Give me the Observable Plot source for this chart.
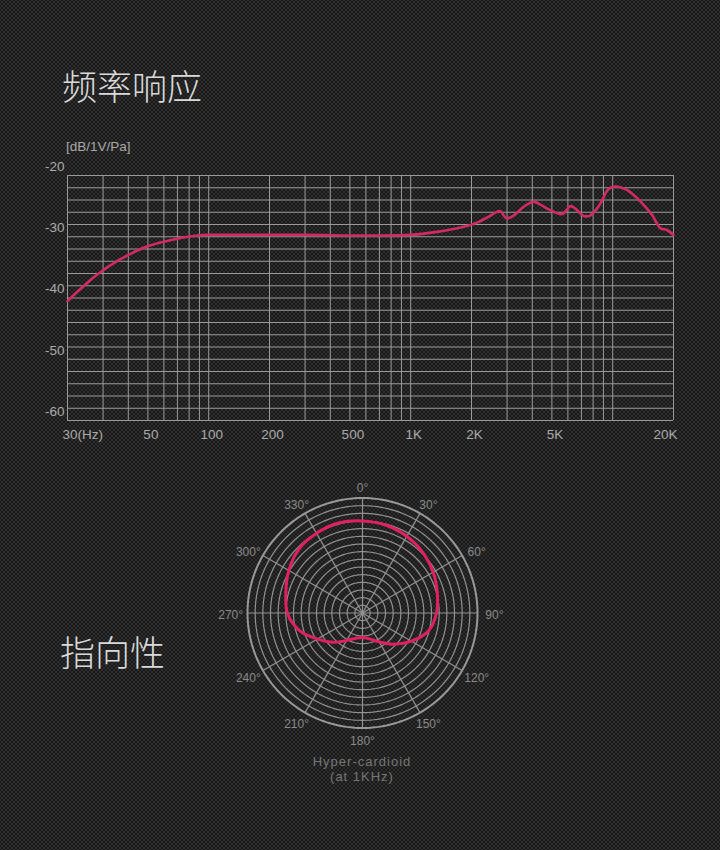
<!DOCTYPE html>
<html><head><meta charset="utf-8">
<script src="https://cdn.jsdelivr.net/npm/d3@7"></script>
<script src="https://cdn.jsdelivr.net/npm/@observablehq/plot@0.6"></script>
<style>
html,body{margin:0;padding:0;}
body{width:720px;height:850px;overflow:hidden;position:relative;
 background-color:#171717;
 background-image: radial-gradient(circle at center, #303030 0.9px, transparent 1.5px), radial-gradient(circle at center, #303030 0.9px, transparent 1.5px);
 background-size:4px 4px; background-position:0 0, 2px 2px;
 font-family:"Liberation Sans", Arial, sans-serif;}
.title{position:absolute;font-family:"Noto Sans CJK SC",sans-serif;font-weight:300;font-size:35px;line-height:35px;color:#dadada;white-space:nowrap;}
#t1{left:62px;top:67px;}
#t2{left:60px;top:633px;}
#unit{position:absolute;left:66px;top:139px;font-size:13.5px;color:#a8a8a8;}
#fr{position:absolute;left:0;top:0;}
#polar{position:absolute;left:0;top:430px;}
.cap{position:absolute;left:262px;width:200px;text-align:center;font-size:13px;letter-spacing:1px;color:#767676;line-height:15px;}
</style></head><body>
<div id="fr"></div><div id="polar"></div>
<div class="title" id="t1">频率响应</div>
<div id="unit">[dB/1V/Pa]</div>
<div class="title" id="t2">指向性</div>
<div class="cap" style="top:754px;">Hyper-cardioid<br>(at 1KHz)</div>
<script>
// ---------- Frequency response data ----------
const freqHz = [20, 23.2, 28, 33.9, 41, 49.5, 60, 72.6, 88, 100, 150, 300, 600, 1000, 1350, 1770, 2130, 2470, 2760, 2980, 3240, 3630, 4070, 4740, 5620, 6180, 6540, 7180, 7760, 8680, 9540, 10300, 11800, 13800, 15700, 17200, 18500, 20000];
const responseDb = [-40.5, -38.5, -36.2, -34.3, -32.8, -31.6, -30.8, -30.2, -29.8, -29.7, -29.7, -29.7, -29.8, -29.7, -29.2, -28.5, -27.7, -26.6, -25.8, -27.0, -26.5, -25.1, -24.3, -25.4, -26.3, -25.0, -25.4, -26.6, -26.5, -24.6, -22.2, -21.8, -22.4, -24.3, -26.5, -28.6, -28.9, -29.7];
const xTickValues = [20, 50, 100, 200, 500, 1000, 2000, 5000, 20000];
const xTickLabels = ["30(Hz)", "50", "100", "200", "500", "1K", "2K", "5K", "20K"];
const yTickValues = [-20, -30, -40, -50, -60];
const yTickLabels = ["-20", "-30", "-40", "-50", "-60"];

// ---------- Polar pattern data ----------
const polarAngles = [0, 15, 30, 45, 60, 75, 90, 105, 120, 135, 150, 165, 180, 195, 210, 225, 240, 255, 270, 285, 300, 315, 330, 345];
const polarDb = [-6.0, -6.3, -6.9, -7.7, -8.7, -9.8, -10.7, -12.1, -15.3, -18.5, -21.3, -23.0, -23.6, -23.2, -21.7, -19.2, -16.4, -12.8, -10.4, -9.3, -7.8, -6.5, -6.0, -5.7];
const polarLabelAngles = [0, 30, 60, 90, 120, 150, 180, 210, 240, 270, 300, 330];
const polarLabels = ["0°", "30°", "60°", "90°", "120°", "150°", "180°", "210°", "240°", "270°", "300°", "330°"];
const polarRingDb = [-28, -26, -24, -22, -20, -18, -16, -14, -12, -10, -8, -6, -4, -2, 0];

// grid lines of the log axis
const xGrid = [];
for (const d of [10, 100, 1000]) for (let k = 1; k <= 9; k++) { const v = k * d; if (v >= 20) xGrid.push(v); }
xGrid.push(10000, 20000);
const yGrid = d3.range(-60, -19, 2);

const frData = freqHz.map((f, i) => ({f, db: responseDb[i]}));
const xTicks = xTickValues.map((v, i) => ({v, label: xTickLabels[i]}));
const yTicks = yTickValues.map((v, i) => ({v, label: yTickLabels[i]}));
const labelFill = "#ababab";
const font = "Liberation Sans, Arial, sans-serif";

const fr = Plot.plot({
  width: 720, height: 450,
  marginTop: 175, marginLeft: 67, marginRight: 47, marginBottom: 30,
  style: {background: "transparent", color: labelFill, fontFamily: font, fontSize: "13px", overflow: "visible"},
  x: {type: "log", domain: [20, 20000], axis: null},
  y: {domain: [-60, -20], axis: null},
  marks: [
    Plot.ruleX(xGrid, {stroke: "#9a9a9a", strokeWidth: 1}),
    Plot.ruleY(yGrid, {stroke: "#9a9a9a", strokeWidth: 1}),
    Plot.line(frData, {x: "f", y: "db", stroke: "#d42a63", strokeWidth: 2.6, curve: "catmull-rom"}),
    Plot.text(yTicks, {frameAnchor: "left", y: "v", text: "label", textAnchor: "end", dx: -3, dy: -9, fill: labelFill, fontSize: 13.5}),
    Plot.text(xTicks.slice(0, 1), {x: "v", frameAnchor: "bottom", text: "label", textAnchor: "start", dx: -5, dy: 18, fill: labelFill, fontSize: 13.5}),
    Plot.text(xTicks.slice(1, -1), {x: "v", frameAnchor: "bottom", text: "label", dx: 3, dy: 18, fill: labelFill, fontSize: 13.5}),
    Plot.text(xTicks.slice(-1), {x: "v", frameAnchor: "bottom", text: "label", textAnchor: "end", dx: 4, dy: 18, fill: labelFill, fontSize: 13.5})
  ]
});
document.getElementById("fr").append(fr);

// ---------- Polar chart ----------
const rad = a => a * Math.PI / 180;
const px = (r, a) => r * Math.sin(rad(a));
const py = (r, a) => r * Math.cos(rad(a));
const R0 = 30; // radius offset: center = -30 dB
const polarData = polarAngles.map((a, i) => ({a, r: polarDb[i] + R0}));
const rings = polarRingDb.flatMap(db => d3.range(0, 361, 2).map(a => ({ring: db, a, r: db + R0})));
const spokes = polarLabelAngles.map(a => ({a}));
const labels = polarLabelAngles.map((a, i) => ({a, label: polarLabels[i]}));
const labelRx = 34.4, labelRy = 33.0;

const pw = 720, ph = 370, cx = 362, cy = 182.5, s = 115 / 30;
const polar = Plot.plot({
  width: pw, height: ph,
  marginLeft: cx - 90 * s, marginRight: pw - cx - 90 * s,
  marginTop: cy - 46 * s, marginBottom: ph - cy - 46 * s,
  style: {background: "transparent", color: "#8a8a8a", fontFamily: font, overflow: "visible"},
  x: {domain: [-90, 90], axis: null},
  y: {domain: [-46, 46], axis: null},
  marks: [
    Plot.line(rings.filter(d => d.ring < 0), {x: d => px(d.r, d.a), y: d => py(d.r, d.a), z: "ring", stroke: "#929292", strokeWidth: 1.2}),
    Plot.line(rings.filter(d => d.ring === 0), {x: d => px(d.r, d.a), y: d => py(d.r, d.a), stroke: "#999999", strokeWidth: 2}),
    Plot.link(spokes, {x1: 0, y1: 0, x2: d => px(R0, d.a), y2: d => py(R0, d.a), stroke: "#929292", strokeWidth: 1.2}),
    Plot.line(polarData, {x: d => px(d.r, d.a), y: d => py(d.r, d.a), curve: "catmull-rom-closed", stroke: "#e21f63", strokeWidth: 3}),
    Plot.text(labels, {x: d => px(labelRx, d.a), y: d => py(labelRy, d.a), dy: 2, text: "label", fill: "#8a8a8a", fontSize: 12})
  ]
});
document.getElementById("polar").append(polar);
</script></body></html>
